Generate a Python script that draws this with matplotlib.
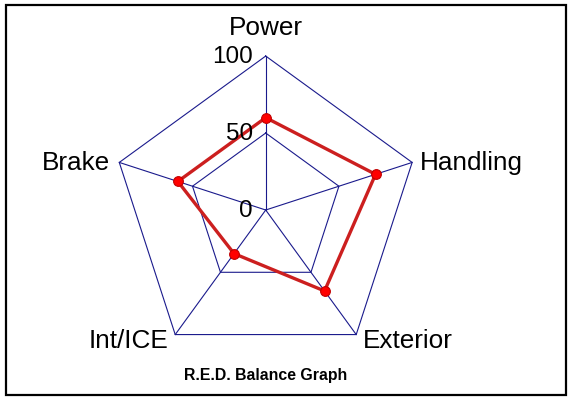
import numpy as np
import matplotlib
matplotlib.use("Agg")
from matplotlib import pyplot as plt
from matplotlib.patches import Rectangle

plt.rcParams['font.family'] = ['Liberation Sans', 'DejaVu Sans']

# data
categories = ["Power", "Handling", "Exterior", "Int/ICE", "Brake"]
values = [60, 75, 65, 35, 60]
ring_levels = [50, 100]
scale_labels = ["0", "50", "100"]
scale_values = [0, 50, 100]
title = "R.E.D. Balance Graph"

# angles go clockwise from the top
n = len(categories)
theta = np.arange(n) * 2 * np.pi / n


def to_xy(r, th):
    return np.asarray(r) * np.sin(th), np.asarray(r) * np.cos(th)


fig = plt.figure(figsize=(5.71, 4.00), dpi=100)
ax = fig.add_axes([0, 0, 1, 1])
ax.set_xlim(-172.5, 198.2)
ax.set_ylim(-123.4, 136.4)
ax.set_aspect('equal')
ax.axis('off')

grid_col = '#1a1a8c'

# pentagon rings
for lev in ring_levels:
    gx, gy = to_xy([lev] * (n + 1), np.append(theta, theta[0]))
    ax.plot(gx, gy, color=grid_col, lw=0.8, zorder=1)

# spokes
for th in theta:
    sx, sy = to_xy([0, 100], [th, th])
    ax.plot(sx, sy, color=grid_col, lw=0.8, zorder=1)

# data line
dx, dy = to_xy(values + values[:1], np.append(theta, theta[0]))
ax.plot(dx, dy, color='#cc1f1f', lw=2.4, zorder=2)
px, py = to_xy(values, theta)
ax.plot(px, py, 'o', color='#ff0000', mec='#c00000', mew=0.8, ms=7, zorder=3)

# scale labels along the top spoke
for lab, v in zip(scale_labels, scale_values):
    ax.text(-8.5, v - 0.6, lab, ha='right', va='center', fontsize=17.5)

# category labels
fs = 18.8
lx, ly = to_xy([100] * n, theta)
ax.text(lx[0], ly[0] + 18.5, categories[0], ha='center', va='center', fontsize=fs)
ax.text(lx[1] + 5, ly[1] - 0.3, categories[1], ha='left', va='center', fontsize=fs)
ax.text(lx[2] + 4.5, ly[2] - 4, categories[2], ha='left', va='center', fontsize=fs)
ax.text(lx[3] - 4.5, ly[3] - 4, categories[3], ha='right', va='center', fontsize=fs)
ax.text(lx[4] - 6, ly[4] - 0.3, categories[4], ha='right', va='center', fontsize=fs)

ax.text(0, -107.5, title, ha='center', va='center', fontsize=11.4, fontweight='bold')

# frame around the picture
fig.patches.append(Rectangle((5.5 / 571, 5 / 400), 560 / 571, 390 / 400,
                             transform=fig.transFigure, fill=False,
                             edgecolor='black', lw=1.6))

fig.savefig("out.png", dpi=100)
